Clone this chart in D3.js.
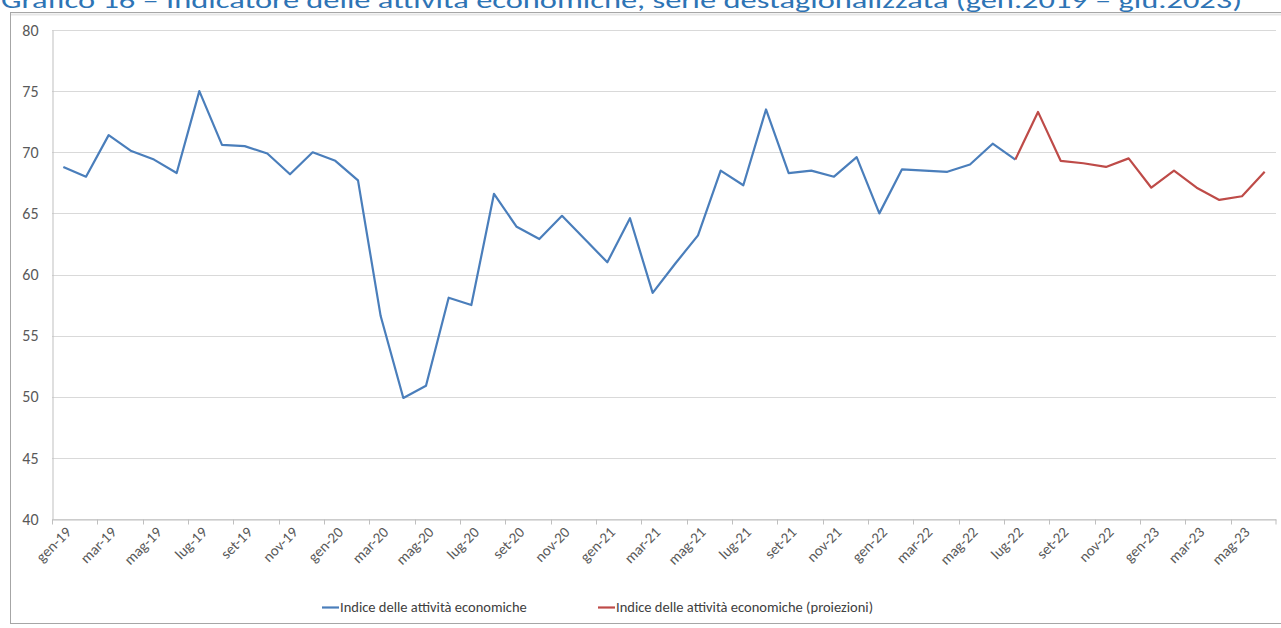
<!DOCTYPE html>
<html>
<head>
<meta charset="utf-8">
<script src="https://cdn.jsdelivr.net/npm/d3@7"></script>
<style>
  html, body { margin: 0; padding: 0; background: #fff; }
  svg { display: block; }
  text { font-family: Carlito, "Liberation Sans", "DejaVu Sans", sans-serif; }
</style>
</head>
<body>
<svg id="chart" width="1281" height="628"></svg>
<script>
// ---- data ----
const months = ["gen","feb","mar","apr","mag","giu","lug","ago","set","ott","nov","dic"];
const years = ["19","20","21","22","23"];
const categories = [];
years.forEach(y => months.forEach(m => categories.push(m + "-" + y)));
categories.length = 54; // gen-19 .. giu-23

const observed = [
  68.8, 68.0, 71.4, 70.1, 69.4, 68.3, 75.0, 70.6, 70.5, 69.9, 68.2, 70.0,
  69.3, 67.7, 56.6, 49.9, 50.9, 58.1, 57.5, 66.6, 63.9, 62.9, 64.8, 62.9,
  61.0, 64.6, 58.5, 60.9, 63.2, 68.5, 67.3, 73.5, 68.3, 68.5, 68.0, 69.6,
  65.0, 68.6, 68.5, 68.4, 69.0, 70.7, 69.4
];
// projections start at lug-22 (joined to the observed series)
const projStart = "lug-22";
const projections = [
  69.4, 73.3, 69.3, 69.1, 68.8, 69.5,
  67.1, 68.5, 67.1, 66.1, 66.4, 68.4
];
const yTicks = [40, 45, 50, 55, 60, 65, 70, 75, 80];
const titleText = "Grafico 16 – Indicatore delle attività economiche, serie destagionalizzata (gen.2019 – giu.2023)";
const legendLabels = ["Indice delle attività economiche", "Indice delle attività economiche (proiezioni)"];
const colors = ["#4A7EBB", "#BE4B48"];

// ---- layout ----
const svg = d3.select("#chart");
const plot = { left: 52, right: 1276, top: 30, bottom: 519 };

const x = d3.scaleBand().domain(categories).range([plot.left, plot.right]).padding(0);
const y = d3.scaleLinear().domain([40, 80]).range([plot.bottom, plot.top]);
const cx = c => x(c) + x.bandwidth() / 2;

// title
svg.append("text")
  .attr("x", 1).attr("y", 8)
  .attr("font-size", 23)
  .attr("fill", "#2E74B5")
  .attr("textLength", 1241)
  .attr("lengthAdjust", "spacingAndGlyphs")
  .text(titleText);

// chart frame
svg.append("rect")
  .attr("x", 10.5).attr("y", 12.5)
  .attr("width", 1290).attr("height", 611)
  .attr("fill", "#fff")
  .attr("stroke", "#a6a6a6").attr("stroke-width", 1);
svg.append("line")
  .attr("x1", 11).attr("x2", 1281).attr("y1", 14.5).attr("y2", 14.5)
  .attr("stroke", "#e6e6e6").attr("stroke-width", 2);

// gridlines
svg.append("g")
  .selectAll("line")
  .data(yTicks)
  .join("line")
  .attr("x1", plot.left).attr("x2", plot.right)
  .attr("y1", d => Math.round(y(d)) + 0.5).attr("y2", d => Math.round(y(d)) + 0.5)
  .attr("stroke", "#d9d9d9").attr("stroke-width", 1);

// y axis
const yAxis = d3.axisLeft(y).tickValues(yTicks).tickSize(0).tickPadding(14);
const gy = svg.append("g").attr("transform", `translate(${plot.left + 0.5},0)`).call(yAxis);
gy.select(".domain").attr("stroke", "#bfbfbf");
gy.selectAll("text").attr("font-size", 16).attr("fill", "#595959")
  .attr("font-family", 'Carlito, "Liberation Sans", sans-serif');

// x axis
const xAxis = d3.axisBottom(x).tickValues([]).tickSize(0);
const gx = svg.append("g").attr("transform", `translate(0,${plot.bottom + 0.5})`).call(xAxis);
gx.select(".domain").attr("stroke", "#bfbfbf");
// tick marks every 2 categories (at category boundaries)
const tickCats = categories.filter((c, i) => i % 2 === 0);
gx.selectAll(".tm")
  .data(tickCats.concat(["__end"]))
  .join("line")
  .attr("class", "tm")
  .attr("x1", d => d === "__end" ? plot.right : Math.round(x(d)) + 0.5)
  .attr("x2", d => d === "__end" ? plot.right : Math.round(x(d)) + 0.5)
  .attr("y1", 0).attr("y2", 5)
  .attr("stroke", "#bfbfbf");
gx.selectAll(".lbl")
  .data(tickCats)
  .join("text")
  .attr("class", "lbl")
  .attr("transform", d => `translate(${cx(d) + 5},${10}) rotate(-45)`)
  .attr("text-anchor", "end")
  .attr("dy", "0.35em")
  .attr("font-size", 15)
  .attr("fill", "#595959")
  .text(d => d);

// lines
const line = d3.line().x(d => cx(d.c)).y(d => y(d.v));
const obsData = observed.map((v, i) => ({ c: categories[i], v }));
const p0 = categories.indexOf(projStart);
const projData = projections.map((v, i) => ({ c: categories[p0 + i], v }));

svg.append("path").datum(obsData)
  .attr("d", line).attr("fill", "none")
  .attr("stroke", colors[0]).attr("stroke-width", 2.2)
  .attr("stroke-linejoin", "round");
svg.append("path").datum(projData)
  .attr("d", line).attr("fill", "none")
  .attr("stroke", colors[1]).attr("stroke-width", 2.2)
  .attr("stroke-linejoin", "round");

// legend
const legendX = [322, 598];
const lg = svg.append("g");
legendLabels.forEach((lab, i) => {
  lg.append("line")
    .attr("x1", legendX[i]).attr("x2", legendX[i] + 17)
    .attr("y1", 607.5).attr("y2", 607.5)
    .attr("stroke", colors[i]).attr("stroke-width", 2.2);
  lg.append("text")
    .attr("x", legendX[i] + 18).attr("y", 607)
    .attr("dy", "0.35em")
    .attr("font-size", 14.5)
    .attr("fill", "#404040")
    .text(lab);
});
</script>
</body>
</html>
